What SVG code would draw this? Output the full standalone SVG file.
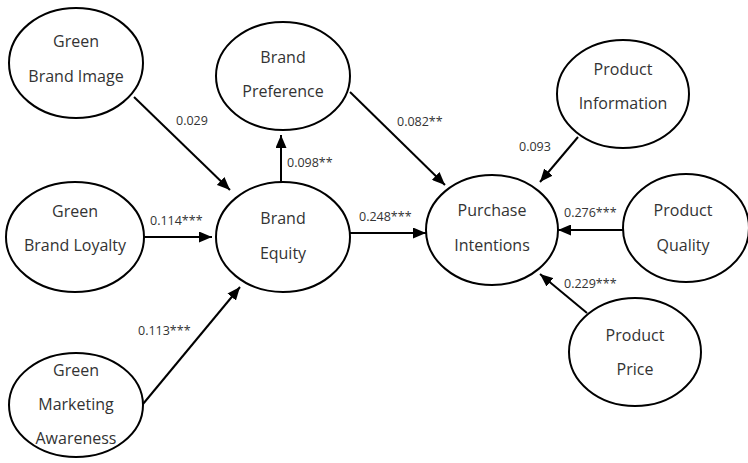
<svg xmlns="http://www.w3.org/2000/svg" width="748" height="463" viewBox="0 0 748 463">
<defs>
<marker id="ah" markerWidth="13" markerHeight="11" refX="13" refY="5.5" orient="auto" markerUnits="userSpaceOnUse">
<path d="M0,0 L13,5.5 L0,11 z" fill="#000"/>
</marker>
<style>
.n ellipse{fill:#fff;stroke:#000;stroke-width:2}
.n text{font-family:"Open Sans","Noto Sans",sans-serif;font-size:16px;fill:#333;text-anchor:middle}
.c line{stroke:#000;stroke-width:2;marker-end:url(#ah)}
.c text{font-family:"Open Sans","Noto Sans",sans-serif;font-size:12.5px;fill:#333}
</style>
</defs>
<rect width="748" height="463" fill="#fff"/>
<g class="c" id="connectors">
<line x1="134" y1="97" x2="230" y2="190"/>
<text x="176" y="125">0.029</text>
<line x1="281" y1="183" x2="281" y2="135"/>
<text x="287" y="167">0.098**</text>
<line x1="144" y1="237" x2="212" y2="237"/>
<text x="150" y="225">0.114***</text>
<line x1="143" y1="404" x2="240" y2="287"/>
<text x="138" y="335">0.113***</text>
<line x1="350" y1="233" x2="426" y2="233"/>
<text x="359" y="221">0.248***</text>
<line x1="350" y1="92" x2="445" y2="185"/>
<text x="397" y="126">0.082**</text>
<line x1="578" y1="137" x2="540" y2="182"/>
<text x="519" y="151">0.093</text>
<line x1="623" y1="230" x2="558" y2="230"/>
<text x="564" y="217">0.276***</text>
<line x1="587" y1="313" x2="540" y2="274"/>
<text x="564" y="288">0.229***</text>
</g>
<g class="n" id="green-brand-image"><ellipse cx="76" cy="63" rx="67" ry="55"/><text x="76" y="47">Green</text><text x="76" y="82">Brand Image</text></g>
<g class="n" id="brand-preference"><ellipse cx="283" cy="76" rx="67" ry="54"/><text x="283" y="63">Brand</text><text x="283" y="97">Preference</text></g>
<g class="n" id="green-brand-loyalty"><ellipse cx="75" cy="237" rx="69" ry="55"/><text x="75" y="217">Green</text><text x="75" y="251">Brand Loyalty</text></g>
<g class="n" id="brand-equity"><ellipse cx="283" cy="237" rx="67" ry="55"/><text x="283" y="224">Brand</text><text x="283" y="259">Equity</text></g>
<g class="n" id="green-marketing-awareness"><ellipse cx="76" cy="405" rx="67" ry="52"/><text x="76" y="376">Green</text><text x="76" y="410">Marketing</text><text x="76" y="444">Awareness</text></g>
<g class="n" id="purchase-intentions"><ellipse cx="492" cy="230" rx="66" ry="55"/><text x="492" y="216">Purchase</text><text x="492" y="251">Intentions</text></g>
<g class="n" id="product-information"><ellipse cx="623" cy="94" rx="66" ry="54"/><text x="623" y="75">Product</text><text x="623" y="109">Information</text></g>
<g class="n" id="product-quality"><ellipse cx="686" cy="228" rx="63" ry="54"/><text x="683" y="216">Product</text><text x="683" y="251">Quality</text></g>
<g class="n" id="product-price"><ellipse cx="635" cy="352" rx="66" ry="54"/><text x="635" y="341">Product</text><text x="635" y="375">Price</text></g>
</svg>
